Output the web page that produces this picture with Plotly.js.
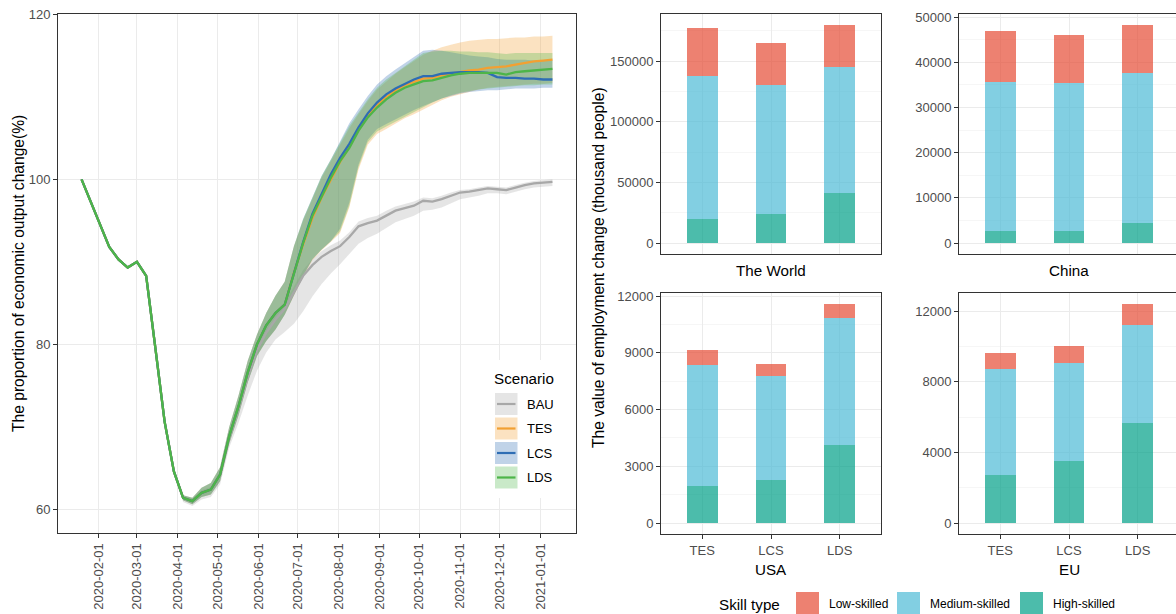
<!DOCTYPE html>
<html>
<head>
<meta charset="utf-8">
<script src="https://cdn.plot.ly/plotly-3.0.1.min.js"></script>
<style>
html,body{margin:0;padding:0;overflow:hidden;background:#fff;}
#chart{width:1182px;height:614px;}
</style>
</head>
<body>
<div id="chart"></div>
<script>
// ---------------- data: left panel (weekly) ----------------
const dates = ["2020-01-19","2020-01-26","2020-02-02","2020-02-09","2020-02-16","2020-02-23","2020-03-01","2020-03-08","2020-03-15","2020-03-22","2020-03-29",
"2020-04-05","2020-04-12","2020-04-19","2020-04-26","2020-05-03","2020-05-10","2020-05-17","2020-05-24","2020-05-31",
"2020-06-07","2020-06-14","2020-06-21","2020-06-28","2020-07-05","2020-07-12","2020-07-19","2020-07-26",
"2020-08-02","2020-08-09","2020-08-16","2020-08-23","2020-08-30","2020-09-06","2020-09-13","2020-09-20","2020-09-27",
"2020-10-04","2020-10-11","2020-10-18","2020-10-25","2020-11-01","2020-11-08","2020-11-15","2020-11-22","2020-11-29",
"2020-12-06","2020-12-13","2020-12-20","2020-12-27","2021-01-03","2021-01-10"];

const bauLine  = [100.0,97.3,94.6,91.8,90.3,89.3,90.0,88.3,79.5,70.6,64.6, 61.4,61.0,62.0,62.4,64.2, 68.7,72.2,76.0,79.3, 81.4,83.0,84.3,86.3, 88.3,89.6,90.6,91.3, 91.9,93.0,94.3,94.7,95.0, 95.6,96.2,96.5,96.8, 97.4,97.3,97.6,98.0, 98.4,98.5,98.7,98.9,98.8, 98.7,99.0,99.3,99.5, 99.6,99.7];
const bauUpper = [100.0,97.3,94.6,91.8,90.3,89.3,90.0,88.3,79.5,70.6,64.6, 61.6,61.3,62.3,62.7,64.6, 69.3,72.8,76.6,79.9, 82.0,83.6,85.0,87.0, 89.0,90.3,91.3,92.0, 92.6,93.6,94.9,95.3,95.6, 96.2,96.7,97.0,97.3, 97.8,97.7,98.0,98.4, 98.7,98.8,99.0,99.2,99.1, 99.0,99.3,99.6,99.8, 99.9,100.0];
const bauLower = [100.0,97.3,94.6,91.8,90.3,89.3,90.0,88.3,79.5,70.6,64.6, 60.9,60.4,61.2,61.5,63.0, 67.5,70.5,73.8,76.8, 79.0,80.6,81.5,82.5, 84.0,85.8,87.3,88.6, 89.7,90.9,92.2,92.9,93.4, 94.1,94.8,95.2,95.6, 96.2,96.3,96.6,97.1, 97.6,97.8,98.0,98.3,98.3, 98.2,98.5,98.8,99.0, 99.1,99.2];

const tesLine  = [100.0,97.3,94.6,91.8,90.3,89.3,90.0,88.3,79.5,70.6,64.6, 61.4,61.0,62.0,62.4,64.2, 68.9,72.5,76.6,80.0, 82.3,83.8,84.8,88.7, 92.1,95.3,97.8,100.0, 102.1,103.9,106.0,107.7,109.0, 110.0,110.8,111.4,111.8, 112.2,112.3,112.6,112.8, 113.0,113.2,113.3,113.5,113.6, 113.7,113.9,114.1,114.3, 114.4,114.5];
const tesUpper = [100.0,97.3,94.6,91.8,90.3,89.3,90.0,88.3,79.5,70.6,64.6, 61.7,61.4,62.6,63.2,65.1, 70.0,73.8,78.0,81.2, 83.8,85.9,87.6,91.9, 95.0,97.6,100.2,102.2, 104.2,106.2,107.9,109.5,110.9, 111.9,112.8,113.6,114.4, 115.1,115.6,116.0,116.3, 116.6,116.8,116.9,117.0,117.0, 117.1,117.2,117.2,117.3, 117.3,117.4];
const tesLower = [100.0,97.3,94.6,91.8,90.3,89.3,90.0,88.3,79.5,70.6,64.6, 61.1,60.6,61.5,61.8,63.4, 68.0,71.4,75.4,78.6, 80.4,81.8,83.6,85.9, 88.2,90.2,91.4,92.4, 93.5,96.6,101.2,104.2,105.5, 106.1,106.8,107.4,107.9, 108.5,109.1,109.6,110.0, 110.3,110.6,110.9,111.1,111.2, 111.3,111.4,111.5,111.6, 111.6,111.7];

const lcsLine  = [100.0,97.3,94.6,91.8,90.3,89.3,90.0,88.3,79.5,70.6,64.6, 61.4,61.0,62.0,62.4,64.2, 68.9,72.5,76.6,80.0, 82.3,83.8,84.8,88.7, 92.4,95.8,98.3,100.6, 102.6,104.3,106.3,108.0,109.3, 110.3,111.0,111.6,112.1, 112.5,112.5,112.8,112.9, 113.0,113.0,113.0,112.9,112.4, 112.3,112.3,112.2,112.2, 112.1,112.1];
const lcsUpper = [100.0,97.3,94.6,91.8,90.3,89.3,90.0,88.3,79.5,70.6,64.6, 61.7,61.4,62.6,63.2,65.1, 70.0,73.8,78.0,81.2, 83.8,85.9,87.6,91.9, 95.2,97.8,100.4,102.4, 104.7,106.8,108.5,110.1,111.5, 112.5,113.3,114.1,114.9, 115.6,115.7,115.6,115.4, 115.2,115.0,114.9,114.8,114.6, 114.5,114.5,114.5,114.4, 114.4,114.4];
const lcsLower = [100.0,97.3,94.6,91.8,90.3,89.3,90.0,88.3,79.5,70.6,64.6, 61.1,60.6,61.5,61.8,63.4, 68.0,71.4,75.4,78.6, 80.4,81.8,83.6,85.9, 88.3,90.3,91.5,92.5, 94.0,97.2,101.8,104.8,106.1, 106.7,107.3,107.9,108.4, 108.9,109.4,109.8,110.1, 110.4,110.6,110.7,110.8,110.8, 110.9,111.0,111.0,111.0, 111.1,111.1];

const ldsLine  = [100.0,97.3,94.6,91.8,90.3,89.3,90.0,88.3,79.5,70.6,64.6, 61.4,61.0,62.0,62.4,64.2, 68.9,72.5,76.6,80.0, 82.3,83.8,84.8,88.7, 92.3,95.6,98.0,100.2, 102.2,103.8,105.9,107.5,108.7, 109.7,110.5,111.1,111.5, 111.9,112.0,112.3,112.6, 112.8,112.9,112.9,112.9,112.9, 112.7,113.0,113.1,113.2, 113.3,113.4];
const ldsUpper = [100.0,97.3,94.6,91.8,90.3,89.3,90.0,88.3,79.5,70.6,64.6, 61.7,61.4,62.6,63.2,65.1, 70.0,73.8,78.0,81.2, 83.8,85.9,87.6,91.9, 95.2,97.8,100.4,102.4, 104.4,106.5,108.1,109.7,111.1, 112.1,112.9,113.7,114.5, 115.3,115.5,115.6,115.6, 115.5,115.5,115.4,115.4,115.3, 115.2,115.3,115.3,115.3, 115.3,115.3];
const ldsLower = [100.0,97.3,94.6,91.8,90.3,89.3,90.0,88.3,79.5,70.6,64.6, 61.1,60.6,61.5,61.8,63.4, 68.0,71.4,75.4,78.6, 80.4,81.8,83.6,85.9, 88.3,90.3,91.5,92.5, 93.7,96.8,101.5,104.5,105.8, 106.4,107.0,107.6,108.1, 108.7,109.3,109.8,110.2, 110.5,110.7,110.9,111.0,111.1, 111.2,111.3,111.4,111.4, 111.5,111.5];

const scenarioNames = ["BAU","TES","LCS","LDS"];

// ---------------- data: right panels ----------------
const barCategories = ["TES","LCS","LDS"];
const skillNames = ["High-skilled","Medium-skilled","Low-skilled"];
const regionNames = ["The World","China","USA","EU"];
const worldHigh = [20200, 23800, 41300];
const worldMed  = [117800, 106300, 103800];
const worldLow  = [39000, 34400, 34700];
const chinaHigh = [2580, 2580, 4340];
const chinaMed  = [33120, 32920, 33210];
const chinaLow  = [11100, 10600, 10700];
const usaHigh = [1970, 2300, 4120];
const usaMed  = [6370, 5480, 6720];
const usaLow  = [790, 650, 740];
const euHigh = [2730, 3490, 5690];
const euMed  = [6000, 5570, 5520];
const euLow  = [890, 980, 1200];

// ---------------- styling ----------------
const W = 1182, H = 614;
const X = p => p / W;
const Y = p => 1 - p / H;
const FONT = "Liberation Sans, Arial, sans-serif";
const lineColors = {BAU:"#A8A8A8", TES:"#F2A032", LCS:"#2E6DB4", LDS:"#4DB548"};
const fillColors = {BAU:"rgba(168,168,168,0.3)", TES:"rgba(242,160,50,0.3)", LCS:"rgba(46,109,180,0.3)", LDS:"rgba(77,181,72,0.3)"};
const skillColors = {"High-skilled":"rgba(0,160,135,0.7)", "Medium-skilled":"rgba(77,187,213,0.7)", "Low-skilled":"rgba(230,75,53,0.7)"};

const series = {
  BAU:{line:bauLine, upper:bauUpper, lower:bauLower},
  TES:{line:tesLine, upper:tesUpper, lower:tesLower},
  LCS:{line:lcsLine, upper:lcsUpper, lower:lcsLower},
  LDS:{line:ldsLine, upper:ldsUpper, lower:ldsLower}
};

const traces = [];
scenarioNames.forEach(s => {
  traces.push({x:dates, y:series[s].lower, type:"scatter", mode:"lines", line:{width:0, color:fillColors[s]},
    showlegend:false, hoverinfo:"skip", xaxis:"x", yaxis:"y"});
  traces.push({x:dates, y:series[s].upper, type:"scatter", mode:"lines", line:{width:0, color:fillColors[s]},
    fill:"tonexty", fillcolor:fillColors[s], showlegend:false, hoverinfo:"skip", xaxis:"x", yaxis:"y", name:s+" range"});
});
scenarioNames.forEach(s => {
  traces.push({x:dates, y:series[s].line, type:"scatter", mode:"lines", name:s,
    line:{color:lineColors[s], width:2.3}, showlegend:false, xaxis:"x", yaxis:"y"});
});

const panels = [
  {name:"The World", xa:"x2", ya:"y2", high:worldHigh, med:worldMed, low:worldLow},
  {name:"China",     xa:"x3", ya:"y3", high:chinaHigh, med:chinaMed, low:chinaLow},
  {name:"USA",       xa:"x4", ya:"y4", high:usaHigh,   med:usaMed,   low:usaLow},
  {name:"EU",        xa:"x5", ya:"y5", high:euHigh,    med:euMed,    low:euLow}
];
panels.forEach(p => {
  const vals = {"High-skilled":p.high, "Medium-skilled":p.med, "Low-skilled":p.low};
  skillNames.forEach(k => {
    traces.push({type:"bar", x:barCategories, y:vals[k], name:k, width:0.45,
      marker:{color:skillColors[k], line:{width:0}}, showlegend:false, xaxis:p.xa, yaxis:p.ya});
  });
  p.max = Math.max(...barCategories.map((c,i)=>p.high[i]+p.med[i]+p.low[i]));
});

const tickFont = {family:FONT, size:13, color:"#4D4D4D"};
const frame = {showline:true, mirror:true, linecolor:"#333333", linewidth:1, zeroline:false,
  showgrid:true, gridcolor:"#EBEBEB", gridwidth:1, tickfont:tickFont, ticklen:4, tickcolor:"#333333"};

const layout = {
  width:W, height:H, margin:{l:0,r:0,t:0,b:0}, paper_bgcolor:"#fff", plot_bgcolor:"#fff",
  barmode:"stack", showlegend:false, font:{family:FONT},
  xaxis:Object.assign({}, frame, {domain:[X(58),X(576)], anchor:"y", type:"date",
    range:["2020-01-01 03:36","2021-01-27 20:24"], tick0:"2020-02-01", dtick:"M1",
    tickformat:"%Y-%m-%d", tickangle:-90, ticks:"outside"}),
  yaxis:Object.assign({}, frame, {domain:[Y(533),Y(14)], anchor:"x", range:[57.13,120.04],
    tickvals:[60,80,100,120], ticks:"outside"})
};
const dom = {
  x2:{x:[661,881], y:[254,14]}, x3:{x:[959,1179], y:[254,14]},
  x4:{x:[661,881], y:[534,293]}, x5:{x:[959,1179], y:[534,293]}
};
const yd = {y2:[50000,25000], y3:[10000,5000], y4:[3000,1500], y5:[4000,2000]};
panels.forEach((p, i) => {
  const n = i + 2;
  const d = dom["x"+n];
  const bottom = n >= 4;
  layout["xaxis"+n] = Object.assign({}, frame, {domain:[X(d.x[0]),X(d.x[1])], anchor:"y"+n, type:"category",
    range:[-0.6,2.6], showticklabels:bottom, ticks:bottom?"outside":""});
  layout["yaxis"+n] = Object.assign({}, frame, {domain:[Y(d.y[0]),Y(d.y[1])], anchor:"x"+n,
    range:[-0.05*p.max, 1.05*p.max], tick0:0, dtick:yd["y"+n][0], tickformat:"d", ticks:"outside",
    minor:{dtick:yd["y"+n][1], tick0:0, showgrid:true, gridcolor:"#F0F0F0", gridwidth:0.6, ticks:""}});
});

const ann = [];
const txt = (text, px, py, size, opts) => Object.assign({text, x:X(px), y:Y(py), xref:"paper", yref:"paper",
  showarrow:false, xanchor:"center", yanchor:"middle", font:{family:FONT, size, color:"#000"}}, opts||{});
ann.push(txt("The proportion of economic output change(%)", 18, 274, 15.6, {textangle:-90}));
ann.push(txt("The value of employment change (thousand people)", 598, 268, 15.6, {textangle:-90}));
ann.push(txt("The World", 771, 270, 15.2));
ann.push(txt("China", 1069, 270, 15.2));
ann.push(txt("USA", 771, 569, 15.2));
ann.push(txt("EU", 1069, 569, 15.2));
ann.push(txt("Scenario", 492, 378, 15.2, {xanchor:"left"}));
const keyY = [404, 428.5, 453, 477.5];
scenarioNames.forEach((s,i) => ann.push(txt(s, 525, keyY[i], 13, {xanchor:"left"})));
ann.push(txt("Skill type", 717, 604, 15.2, {xanchor:"left"}));
const skillKeyX = {"Low-skilled":796, "Medium-skilled":897, "High-skilled":1020};
["Low-skilled","Medium-skilled","High-skilled"].forEach(k => ann.push(txt(k, skillKeyX[k]+31, 604, 12, {xanchor:"left"})));
layout.annotations = ann;

const shapes = [];
shapes.push({type:"rect", xref:"paper", yref:"paper", x0:X(488), x1:X(564), y0:Y(498), y1:Y(360),
  fillcolor:"#fff", line:{width:0}, layer:"above"});
scenarioNames.forEach((s,i) => {
  shapes.push({type:"rect", xref:"paper", yref:"paper", x0:X(495), x1:X(517.5), y0:Y(keyY[i]+11), y1:Y(keyY[i]-11),
    fillcolor:fillColors[s], line:{width:0}, layer:"above"});
  shapes.push({type:"line", xref:"paper", yref:"paper", x0:X(497), x1:X(515.5), y0:Y(keyY[i]), y1:Y(keyY[i]),
    line:{color:lineColors[s], width:2.2}, layer:"above"});
});
Object.keys(skillKeyX).forEach(k => {
  shapes.push({type:"rect", xref:"paper", yref:"paper", x0:X(skillKeyX[k]), x1:X(skillKeyX[k]+23), y0:Y(616), y1:Y(592),
    fillcolor:skillColors[k], line:{width:0}, layer:"above"});
});
layout.shapes = shapes;

Plotly.newPlot("chart", traces, layout, {displayModeBar:false, staticPlot:true});
</script>
</body>
</html>
